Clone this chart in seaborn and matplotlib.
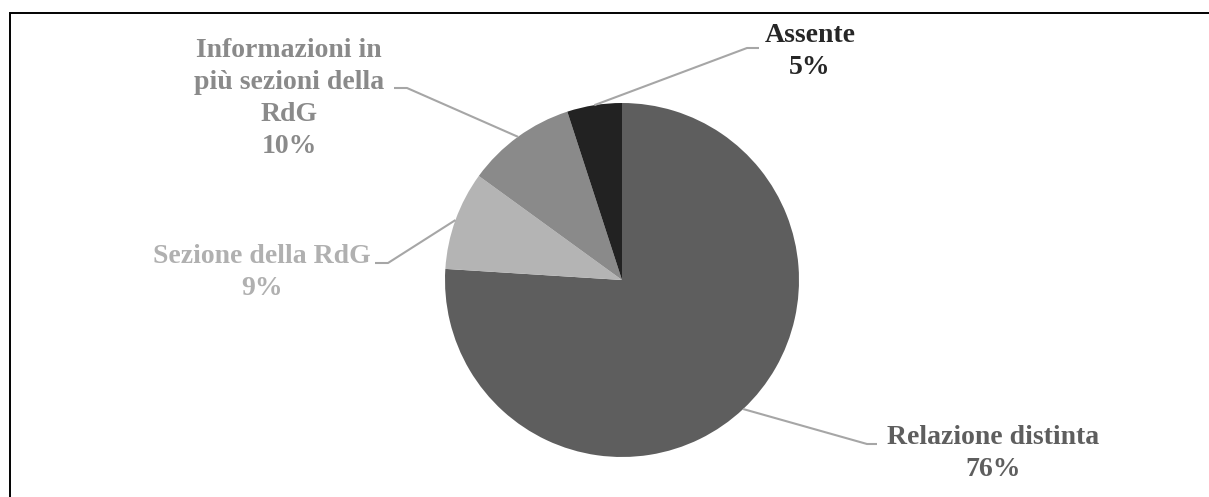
import numpy as np
import matplotlib
matplotlib.use("Agg")
import matplotlib.pyplot as plt
import seaborn as sns

# Where the information is reported
categories = ["Relazione distinta", "Sezione della RdG",
              "Informazioni in più sezioni della RdG", "Assente"]
shares = [76, 9, 10, 5]
label_lines = [["Relazione distinta", "76%"],
               ["Sezione della RdG", "9%"],
               ["Informazioni in", "più sezioni della", "RdG", "10%"],
               ["Assente", "5%"]]

slice_colors = ["#5e5e5e", "#b4b4b4", "#8a8a8a", "#222222"]
text_colors = ["#5e5e5e", "#b0b0b0", "#8a8a8a", "#262626"]
leader_color = "#a6a6a6"

sns.set_theme(style="white")
plt.rcParams["font.family"] = ["Liberation Serif", "DejaVu Serif"]

W, H = 1209, 497
fig = plt.figure(figsize=(W / 100, H / 100), dpi=100)
ax = fig.add_axes([0, 0, 1, 1])

cx, cy, r = 622, 280, 177


def Y(y):
    return H - y


wedges, _ = ax.pie(shares, colors=slice_colors, startangle=90,
                   counterclock=False, center=(cx, Y(cy)), radius=r,
                   wedgeprops=dict(linewidth=0), frame=True)
ax.set_xlim(0, W)
ax.set_ylim(0, H)
ax.set_aspect("equal", adjustable="box")
ax.axis("off")

# label layout: (text centre x, first baseline y, elbow start, elbow end)
layout = [
    (993, 444, (877, 444), (867, 444)),
    (262, 263, (375, 263), (388, 263)),
    (289, 57, (394, 88), (407, 88)),
    (810, 42, (759, 48), (747, 48)),
]
line_gap = 32
fsize = 20

for w, lines, col, (tx, ty, e0, e1) in zip(wedges, label_lines, text_colors, layout):
    mid = np.deg2rad((w.theta1 + w.theta2) / 2)
    px = cx + r * np.cos(mid)
    py = Y(cy) + r * np.sin(mid)
    ax.plot([e0[0], e1[0], px], [Y(e0[1]), Y(e1[1]), py],
            color=leader_color, lw=1.5, solid_capstyle="butt", zorder=1)
    for i, s in enumerate(lines):
        ax.text(tx, Y(ty + i * line_gap), s, ha="center", va="baseline",
                fontsize=fsize, fontweight="bold", color=col)

# frame: top and left edges
ax.plot([10, 10, W], [0, Y(12.8), Y(12.8)], color="black", lw=1.4,
        solid_joinstyle="miter", clip_on=False)

fig.savefig("out.png", dpi=100)
